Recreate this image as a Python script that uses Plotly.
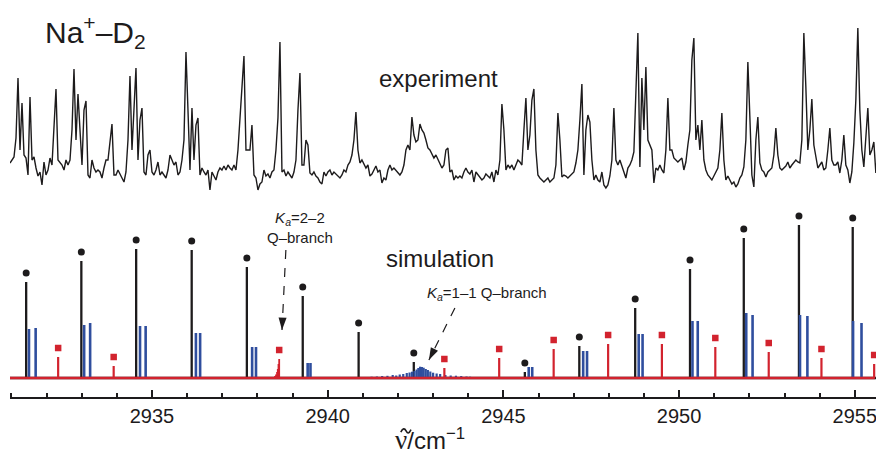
import math
import plotly.graph_objects as go

# ---------------- data ----------------
# experimental trace: uniformly sampled, read off the picture (arb. units)
exp_start = 2930.96
exp_step = 0.0569
exp_int = [
 29,32,35,54,114,42,89,37,34,17,95,32,35,24,16,20,7,30,17,22,
 34,27,67,103,32,30,27,22,32,27,32,62,123,52,98,62,27,82,91,17,
 14,32,24,20,22,20,14,24,32,32,52,68,17,17,22,17,14,10,20,52,
 116,42,92,124,32,72,84,20,17,37,42,20,17,22,30,17,20,17,14,22,
 37,32,27,30,17,20,32,52,140,82,22,84,32,67,74,17,24,20,17,22,
 2,20,16,12,20,24,22,26,22,27,24,22,27,22,42,72,107,136,42,42,
 42,67,17,14,2,8,10,22,16,18,14,20,22,42,74,150,20,22,16,20,
 17,14,20,32,82,119,27,27,52,47,19,17,20,16,14,10,8,20,16,20,
 22,17,20,18,17,14,17,22,20,27,30,37,52,80,42,29,32,27,24,27,
 16,18,22,26,20,22,9,14,12,22,27,22,24,22,20,17,20,27,42,47,
 42,75,57,50,52,68,62,59,52,44,42,37,34,37,32,27,24,27,42,44,
 20,22,12,16,14,16,14,20,24,20,18,22,10,20,17,14,12,14,18,16,
 14,20,10,22,17,32,88,62,22,27,24,27,22,27,32,30,27,62,94,42,
 57,92,103,42,17,14,12,10,12,14,10,12,14,27,79,52,15,17,16,14,
 16,18,20,29,42,72,108,17,62,77,70,32,12,17,12,10,20,7,4,7,
 16,32,84,32,27,32,27,20,14,24,27,32,40,92,159,25,114,62,125,52,
 47,42,9,24,22,27,22,19,42,94,42,42,34,32,30,32,34,22,30,47,
 62,132,154,52,67,42,72,32,22,17,14,12,16,20,24,42,79,32,12,16,
 12,8,10,5,8,14,17,25,52,130,75,17,5,52,75,29,22,20,15,20,
 22,24,37,64,37,24,22,24,26,30,24,27,30,32,30,29,52,159,105,42,
 62,93,47,35,24,27,30,22,24,42,64,32,27,27,30,19,32,57,27,22,
 9,20,49,92,164,82,42,25,52,84,37,42,50,19,42,45,52,47,
]

# simulation: Ka=0-0 lines (black, dots)
black_wn = [2931.42, 2932.99, 2934.55, 2936.13, 2937.70, 2939.29, 2940.88, 2942.45,
            2945.61, 2947.16, 2948.75, 2950.31, 2951.84, 2953.41, 2954.94]
black_int = [96, 117, 129, 128, 111, 82, 46, 16, 6, 32, 70, 109, 140, 153, 151]

# Ka=1-1 lines (blue)
blue_wn = [2931.50, 2931.69, 2933.07, 2933.24, 2934.66, 2934.82, 2936.25, 2936.37,
           2937.85, 2937.96, 2939.43, 2939.51, 2945.72, 2945.82, 2947.27, 2947.38,
           2948.85, 2948.96, 2950.38, 2950.53, 2951.91, 2952.09, 2953.44, 2953.65,
           2954.95, 2955.19]
blue_int = [49, 50, 53, 55, 52, 52, 45, 45, 31, 31, 15, 15, 11, 11, 27, 27,
            44, 44, 57, 57, 65, 63, 63, 62, 57, 55]

# Ka=1-1 Q-branch (blue)
q11_wn = [2941.25, 2941.40, 2941.55, 2941.70, 2941.85, 2941.95, 2942.05, 2942.15,
          2942.25, 2942.33, 2942.40, 2942.47, 2942.53, 2942.58, 2942.63, 2942.68,
          2942.73, 2942.79, 2942.85, 2942.92, 2943.00, 2943.10, 2943.20, 2943.35,
          2943.50, 2943.65, 2943.80, 2943.95, 2944.05]
q11_int = [1.3, 1.5, 2, 2.2, 3, 2.5, 3.5, 4, 5, 5.5, 6.3, 7, 8.5, 10, 11.3, 11,
           10.3, 9, 8, 6.5, 5.3, 4.5, 4, 3, 2.5, 2.3, 2, 1.5, 1.3]

# Ka=2-2 lines (red, squares)
red_wn = [2932.33, 2933.91, 2943.32, 2944.88, 2946.43, 2947.98, 2949.51,
          2951.03, 2952.55, 2954.05, 2955.55]
red_int = [21, 12, 10, 20, 29, 34, 34, 31, 26, 20, 14]

# Ka=2-2 Q-branch (red)
q22_wn = [2938.46, 2938.50, 2938.53, 2938.56, 2938.58, 2938.60, 2938.62]
q22_int = [1, 2, 3.5, 6, 9, 14, 19]

sim_span = [2930.96, 2955.57]
x_range = [2930.96, 2955.83]
tick_vals = [2935, 2940, 2945, 2950, 2955]

# annotation arrows: (tail, tip) in (wavenumber, intensity)
arrow_tail = [(2938.81, 128), (2943.62, 70)]
arrow_tip = [(2938.70, 48), (2942.88, 18)]

# ---------------- styles ----------------
BLACK = "#1d1b1c"
BLUE = "#2f4e9e"
RED = "#d2232e"
FONT = "Liberation Sans, Arial, Helvetica, sans-serif"
MARK_GAP = 9
PX_PER_WN = 874 / (x_range[1] - x_range[0])   # plot width / x span (y: 1 unit = 1 px)


def sticks(xs, hs):
    X, Y = [], []
    for x, h in zip(xs, hs):
        X += [x, x, None]
        Y += [0, h, None]
    return X, Y


fig = go.Figure()

exp_wn = [exp_start + i * exp_step for i in range(len(exp_int))]
fig.add_trace(go.Scatter(x=exp_wn, y=exp_int, mode="lines", yaxis="y2",
                         line=dict(color=BLACK, width=1.4), hoverinfo="skip"))

# black baseline under everything
fig.add_trace(go.Scatter(x=[x_range[0], x_range[1]], y=[0, 0], mode="lines",
                         line=dict(color=BLACK, width=2.4), hoverinfo="skip"))

X, Y = sticks(black_wn, black_int)
fig.add_trace(go.Scatter(x=X, y=Y, mode="lines", line=dict(color=BLACK, width=2.3)))
fig.add_trace(go.Scatter(x=black_wn, y=[h + MARK_GAP for h in black_int], mode="markers",
                         marker=dict(color=BLACK, size=7, symbol="circle")))

X, Y = sticks(blue_wn, blue_int)
fig.add_trace(go.Scatter(x=X, y=Y, mode="lines", line=dict(color=BLUE, width=2.6)))
X, Y = sticks(q11_wn, q11_int)
fig.add_trace(go.Scatter(x=X, y=Y, mode="lines", line=dict(color=BLUE, width=2.2)))

X, Y = sticks(red_wn, red_int)
fig.add_trace(go.Scatter(x=X, y=Y, mode="lines", line=dict(color=RED, width=2.2)))
X, Y = sticks(q22_wn, q22_int)
fig.add_trace(go.Scatter(x=X, y=Y, mode="lines", line=dict(color=RED, width=1.8)))
qhead = q22_int.index(max(q22_int))
sq_x = red_wn + [q22_wn[qhead]]
sq_y = [h + MARK_GAP for h in red_int] + [q22_int[qhead] + MARK_GAP]
fig.add_trace(go.Scatter(x=sq_x, y=sq_y, mode="markers",
                         marker=dict(color=RED, size=6.5, symbol="square")))

# red baseline on top
fig.add_trace(go.Scatter(x=sim_span, y=[0, 0], mode="lines",
                         line=dict(color=RED, width=2.6), hoverinfo="skip"))

# dashed arrow shafts + arrowhead markers
shapes = []
angles = []
for (x0, y0), (x1, y1) in zip(arrow_tail, arrow_tip):
    shapes.append(dict(type="line", xref="x", yref="y", x0=x0, y0=y0, x1=x1, y1=y1,
                       line=dict(color=BLACK, width=1.2, dash="dash")))
    dx = (x1 - x0) * PX_PER_WN
    dy_down = (y0 - y1)
    angles.append(math.degrees(math.atan2(dx, -dy_down)) % 360)
fig.add_trace(go.Scatter(x=[t[0] for t in arrow_tip], y=[t[1] for t in arrow_tip],
                         mode="markers", hoverinfo="skip",
                         marker=dict(symbol="arrow", size=13, angle=angles, color=BLACK,
                                     line=dict(width=0))))

# tilde over the nu of the axis title (drawn as a small curve)
shapes.append(dict(type="path", xref="x", yref="paper",
                   path="M 2942.08,-0.0905 C 2942.14,-0.0795 2942.19,-0.0800 2942.23,-0.0870 "
                        "S 2942.31,-0.0960 2942.37,-0.0840",
                   line=dict(color=BLACK, width=1.6)))

annotations = []
texts = [
    (2931.90, 346, "Na<sup>+</sup>–D<sub>2</sub>", 30, "left"),
    (2943.14, 300, "experiment", 24, "center"),
    (2943.19, 120, "simulation", 24, "center"),
    (2939.21, 151, "<i>K</i><sub><i>a</i></sub>=2–2<br>Q–branch", 15, "center"),
    (2944.53, 85, "<i>K</i><sub><i>a</i></sub>=1–1 Q–branch", 15, "center"),
]
for x, y, t, s, xa in texts:
    annotations.append(dict(x=x, y=y, xref="x", yref="y", text=t, showarrow=False,
                            xanchor=xa, yanchor="middle", align="center",
                            font=dict(family=FONT, size=s, color=BLACK)))

# axis title (below the axis, paper coordinates)
annotations.append(dict(x=2942.91, y=-0.11, xref="x", yref="paper",
                        text='<span style="font-family:Liberation Serif;font-size:27px">ν</span>/cm<sup>−1</sup>',
                        showarrow=False, xanchor="center", yanchor="middle",
                        font=dict(family=FONT, size=24, color=BLACK)))

# page body has an 8px default margin, so the figure is sized/offset to fit the window
fig.update_layout(
    width=876, height=447,
    margin=dict(l=2, r=0, t=0, b=58),
    paper_bgcolor="white", plot_bgcolor="white",
    showlegend=False,
    shapes=shapes, annotations=annotations,
    xaxis=dict(range=x_range, showline=True, linecolor=BLACK, linewidth=2.2,
               ticks="inside", ticklen=7, tickwidth=1.5, tickcolor=BLACK,
               tickvals=tick_vals, showgrid=False, zeroline=False,
               tickfont=dict(family=FONT, size=20, color=BLACK),
               minor=dict(dtick=1, tick0=2935, ticks="inside", ticklen=4,
                          tickwidth=1.5, tickcolor=BLACK, showgrid=False)),
    yaxis=dict(range=[-19, 370], visible=False, fixedrange=True),
    yaxis2=dict(range=[-205, 184], overlaying="y", visible=False),
)

fig.write_html("out.html")
